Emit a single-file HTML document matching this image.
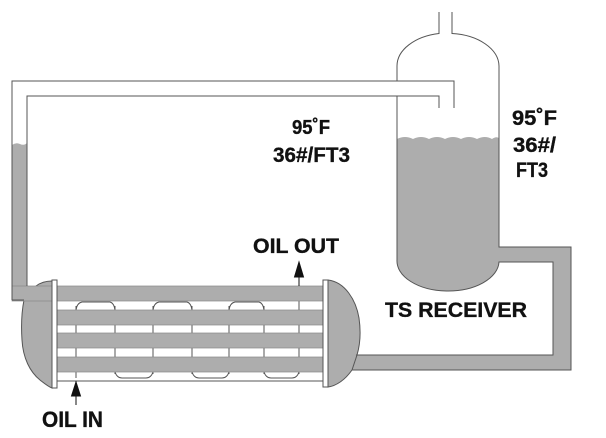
<!DOCTYPE html>
<html><head><meta charset="utf-8"><style>
html,body{margin:0;padding:0;background:#fff;}
svg{display:block;}
text{font-family:"Liberation Sans",Arial,sans-serif;font-weight:bold;fill:#111;stroke:#111;stroke-width:0.35;}
</style></head><body>
<svg width="606" height="438" viewBox="0 0 606 438" xmlns="http://www.w3.org/2000/svg">
<rect width="606" height="438" fill="#fff"/>
<g fill="#adadad" stroke="none">
  <path d="M12,145 Q16,142 20,144 Q24,146 27,143 L27,300 L12,300 Z"/>
  <path d="M397,139 Q405,135 413,139 Q421,135 429,139 Q437,135 445,139 Q453,135 461,139 Q469,135 477,139 Q485,135 492,139 Q496,136 499,138 L499,262 A51,30 0 0 1 397,260 Z"/>
  <path d="M499,247 L571,247 L571,370 L352,370 L356,355 L553,355 L553,262 L499,262 Z"/>
</g>
<path d="M52,281 C46,281 40,283 36,286 L24,300 C22,310 21,325 22,340 C23,358 30,372 40,380 C45,384 49,387 52,388 Z" fill="#adadad" stroke="#555" stroke-width="1"/>
<path d="M328,280 C345,282 356,300 359,318 C361,332 360,345 357,355 L352,370 C345,380 336,386 328,387 Z" fill="#adadad" stroke="#555" stroke-width="1"/>
<g fill="none" stroke="#555" stroke-width="1">
  <line x1="76" y1="306" x2="76" y2="378"/>
  <line x1="115" y1="306" x2="115" y2="374"/>
  <line x1="153" y1="306" x2="153" y2="374"/>
  <line x1="192" y1="306" x2="192" y2="374"/>
  <line x1="229" y1="306" x2="229" y2="374"/>
  <line x1="264" y1="306" x2="264" y2="374"/>
  <line x1="299" y1="286" x2="299" y2="374"/>
  <path d="M76,310 Q77,303 82,302 L110,302 Q114,303 115,310"/>
  <path d="M153,310 Q154,303 159,302 L187,302 Q191,303 192,310"/>
  <path d="M229,310 Q230,303 235,302 L259,302 Q263,303 264,310"/>
  <path d="M115,372 Q117,378 122,378 L146,378 Q151,378 153,372"/>
  <path d="M192,372 Q194,378 199,378 L222,378 Q227,378 229,372"/>
  <path d="M264,372 Q266,378 271,378 L292,378 Q297,378 299,372"/>
  <line x1="57" y1="381" x2="323" y2="381"/>
</g>
<g fill="#adadad" stroke="#888" stroke-width="0.7">
  <rect x="12" y="286" width="311" height="15"/>
  <rect x="57" y="310" width="266" height="15"/>
  <rect x="57" y="333" width="266" height="15"/>
  <rect x="57" y="357" width="266" height="15"/>
</g>
<rect x="12.5" y="287" width="14" height="13" fill="#adadad"/>
<rect x="52" y="280" width="5" height="108" fill="#fff" stroke="#555" stroke-width="1"/>
<rect x="323" y="280" width="5" height="107" fill="#fff" stroke="#555" stroke-width="1"/>
<g fill="none" stroke="#555" stroke-width="1">
  <path d="M12,300 L12,81 L454,81 L454,108"/>
  <path d="M27,286 L27,96 L439,96 L439,108"/>
  <path d="M12,300 L24,300"/>
  <path d="M397,81 L397,66 A51,33 0 0 1 439,33.5"/>
  <path d="M452,33.5 A51,33 0 0 1 499,66 L499,247 L571,247 L571,370 L352,370"/>
  <path d="M356,355 L553,355 L553,262 L499,262 A51,30 0 0 1 397,260 L397,96"/>
  <line x1="439" y1="12" x2="439" y2="34"/>
  <line x1="452" y1="12" x2="452" y2="34"/>
</g>
<g stroke="#111" stroke-width="1" fill="#111">
  <line x1="299" y1="286" x2="299" y2="272"/>
  <polygon points="294.5,277 299,262 303.5,277"/>
  <line x1="76" y1="381" x2="76" y2="405"/>
  <polygon points="71.5,396 76,382 80.5,396"/>
</g>
<text x="292" y="134" font-size="20" textLength="38" lengthAdjust="spacingAndGlyphs">95˚F</text>
<text x="273" y="162" font-size="21" textLength="77" lengthAdjust="spacingAndGlyphs">36#/FT3</text>
<text x="512" y="125" font-size="21" textLength="45" lengthAdjust="spacingAndGlyphs">95˚F</text>
<text x="513" y="152" font-size="21" textLength="43" lengthAdjust="spacingAndGlyphs">36#/</text>
<text x="516" y="177" font-size="21" textLength="32" lengthAdjust="spacingAndGlyphs">FT3</text>
<text x="253" y="253" font-size="21" textLength="86" lengthAdjust="spacingAndGlyphs">OIL OUT</text>
<text x="42" y="427" font-size="22" textLength="61" lengthAdjust="spacingAndGlyphs">OIL IN</text>
<text x="385" y="317" font-size="21" textLength="142" lengthAdjust="spacingAndGlyphs">TS RECEIVER</text>
</svg>
</body></html>
